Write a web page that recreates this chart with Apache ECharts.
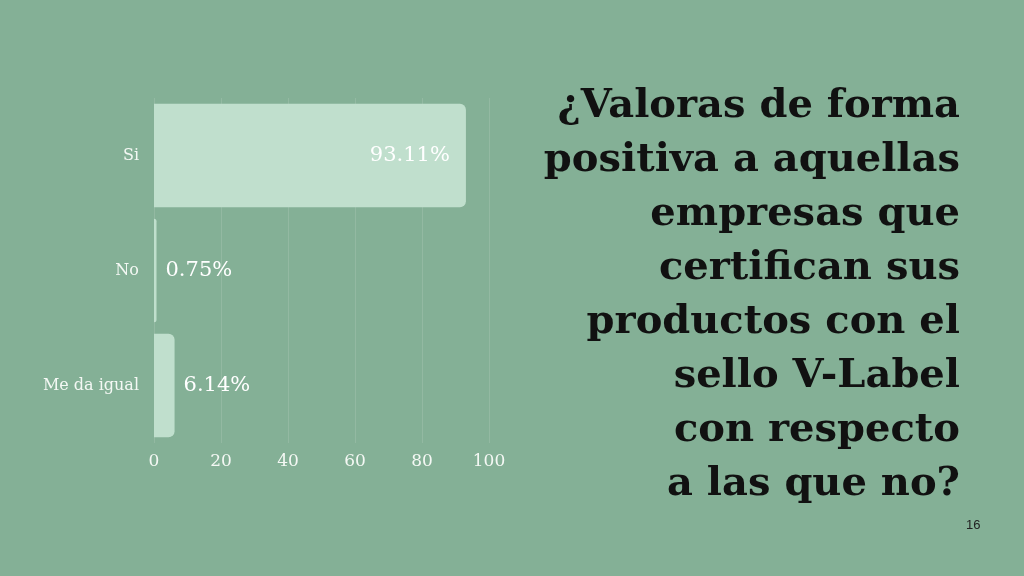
<!DOCTYPE html>
<html><head><meta charset="utf-8">
<script src="https://cdn.jsdelivr.net/npm/echarts@6/dist/echarts.min.js"></script>
<style>html,body{margin:0;padding:0;background:#84b096;}#c{width:1024px;height:576px;}</style>
</head><body><div id="c"></div>
<script>
const categories = ['Si', 'No', 'Me da igual'];
const values = [93.11, 0.75, 6.14];
const xTicks = [0, 20, 40, 60, 80, 100];
const titleLines = ['¿Valoras de forma', 'positiva a aquellas', 'empresas que', 'certifican sus', 'productos con el', 'sello V-Label', 'con respecto', 'a las que no?'];
const pageNumber = '16';

const chart = echarts.init(document.getElementById('c'));
const serif = 'DejaVu Serif';
chart.setOption({
  backgroundColor: '#84b096',
  animation: false,
  grid: { left: 154, right: 535, top: 98, bottom: 133 },
  xAxis: {
    type: 'value', min: xTicks[0], max: xTicks[xTicks.length - 1], interval: 20,
    axisLine: { show: false }, axisTick: { show: false },
    splitLine: { show: true, lineStyle: { color: 'rgba(255,255,255,0.12)', width: 1 } },
    axisLabel: { color: '#f4f8f4', fontFamily: serif, fontSize: 17, margin: 10 }
  },
  yAxis: {
    type: 'category', data: categories, inverse: true,
    axisLine: { show: false }, axisTick: { show: false },
    axisLabel: { color: '#f4f8f4', fontFamily: serif, fontSize: 16, margin: 15 }
  },
  series: [{
    type: 'bar',
    barCategoryGap: '10%',
    data: values.map(v => ({
      value: v,
      label: { position: v > 50 ? 'insideRight' : 'right', distance: v > 50 ? 16 : 9 }
    })),
    itemStyle: { color: '#c0dfcd', borderRadius: [0, 6, 6, 0] },
    label: {
      show: true, color: '#ffffff', fontFamily: serif, fontSize: 21,
      formatter: p => p.value.toFixed(2) + '%'
    }
  }],
  graphic: [
    {
      type: 'text', x: 960, y: 80,
      style: {
        text: titleLines.join('\n'), align: 'right', verticalAlign: 'top', fill: '#111111',
        font: 'bold 40px ' + serif, lineHeight: 54
      }
    },
    {
      type: 'text', x: 966, y: 519,
      style: { text: pageNumber, fill: '#222', font: '13px Liberation Sans' }
    }
  ]
});
</script></body></html>
